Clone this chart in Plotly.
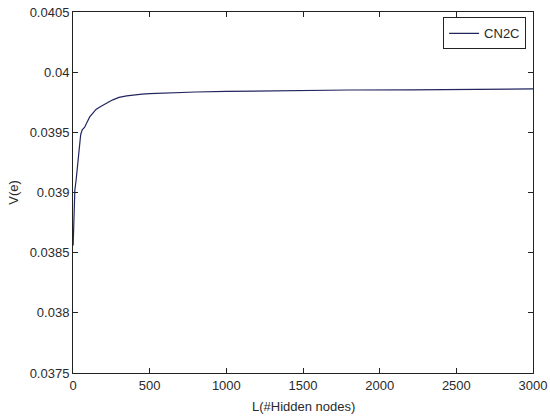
import plotly.graph_objects as go

# hidden nodes vs V(e)
hidden_nodes = [1, 3, 5, 8, 12, 20, 30, 40, 50, 60, 75, 90, 110, 130, 150, 175, 200,
                230, 260, 300, 350, 400, 450, 500, 600, 700, 800, 1000, 1200,
                1400, 1560, 1580, 1800, 2200, 2600, 2900, 2920, 3000]
v_e = [0.03856, 0.03870, 0.03885, 0.03895, 0.03902, 0.03910, 0.03922, 0.03935, 0.03948, 0.03952,
       0.03954, 0.03958, 0.03963, 0.03966, 0.03969, 0.03971, 0.03973,
       0.03975, 0.03977, 0.03979, 0.039803, 0.039812, 0.039818, 0.039822, 0.039828, 0.039832, 0.039835,
       0.039840, 0.039843, 0.039845, 0.039846, 0.039851, 0.039852, 0.039853, 0.039854, 0.039855,
       0.039860, 0.039861]

y_ticks = [0.0375, 0.038, 0.0385, 0.039, 0.0395, 0.04, 0.0405]
y_labels = ['0.0375', '0.038', '0.0385', '0.039', '0.0395', '0.04', '0.0405']
x_ticks = [0, 500, 1000, 1500, 2000, 2500, 3000]

FONT = 'Liberation Sans, Arial'
TXT = '#2a2a2a'

fig = go.Figure()
fig.add_trace(go.Scatter(
    x=hidden_nodes, y=v_e, mode='lines', name='CN2C',
    line=dict(color='#22265e', width=1.2)
))

axis_style = dict(
    showline=True, linecolor='#222', linewidth=1, mirror='ticks',
    ticks='inside', ticklen=5, tickcolor='#222', showgrid=False, zeroline=False,
    automargin=False,
    tickfont=dict(family=FONT, size=13, color=TXT),
)

fig.update_layout(
    width=550, height=416,
    margin=dict(l=73, r=17, t=12, b=43),
    paper_bgcolor='white', plot_bgcolor='white',
    font=dict(family=FONT, size=13, color=TXT),
    xaxis=dict(range=[0, 3000], tickvals=x_ticks, **axis_style),
    yaxis=dict(range=[0.0375, 0.0405], tickvals=y_ticks, ticktext=y_labels, **axis_style),
    legend=dict(x=0.985, y=0.985, xanchor='right', yanchor='top',
                bordercolor='#222', borderwidth=1, bgcolor='white',
                font=dict(size=13, color=TXT), entrywidth=100, tracegroupgap=0),
    showlegend=True,
)

fig.add_annotation(text='L(#Hidden nodes)', xref='paper', yref='paper', x=0.5, y=-0.066,
                   xanchor='center', yanchor='top', showarrow=False,
                   font=dict(family=FONT, size=13, color=TXT))
fig.add_annotation(text='V(e)', xref='paper', yref='paper', x=-0.13, y=0.5,
                   xanchor='center', yanchor='middle', textangle=-90, showarrow=False,
                   font=dict(family=FONT, size=13, color=TXT))

# page body has a default 8px margin; drop it so the figure fills the window
fig.write_html('out.html', config={'displayModeBar': False},
               post_script="document.body.style.margin='0';")
